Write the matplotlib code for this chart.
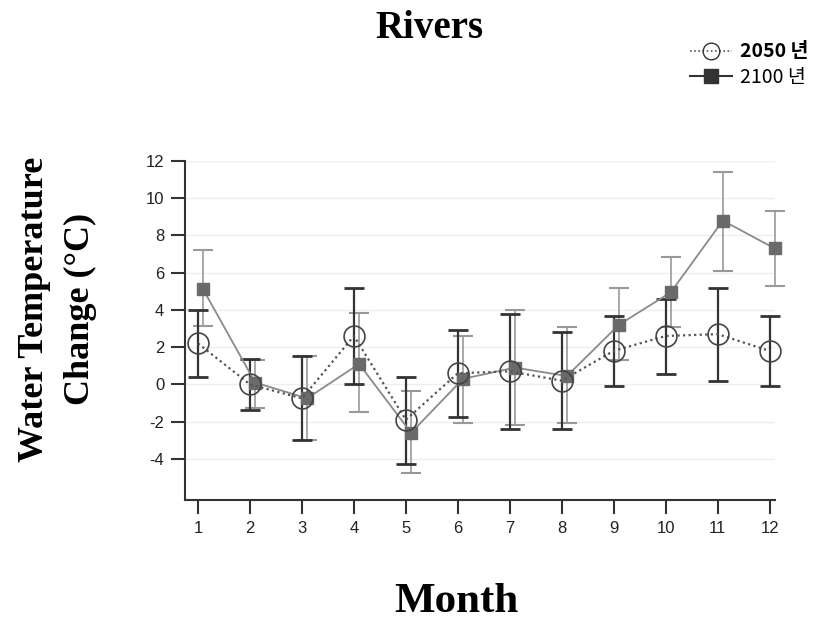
import numpy as np
import matplotlib.pyplot as plt
from matplotlib.lines import Line2D

plt.rcParams['axes.unicode_minus'] = False

months = list(range(1, 13))

# 2050 (open circles, dotted)
t2050 = [2.2, 0.0, -0.75, 2.6, -1.9, 0.6, 0.7, 0.2, 1.8, 2.6, 2.7, 1.8]
t2050_hi = [4.0, 1.35, 1.5, 5.2, 0.4, 2.9, 3.8, 2.8, 3.7, 4.6, 5.2, 3.7]
t2050_lo = [0.4, -1.35, -3.0, 0.0, -4.3, -1.75, -2.4, -2.4, -0.1, 0.55, 0.2, -0.1]

# 2100 (grey squares, solid)
t2100 = [5.1, 0.1, -0.75, 1.1, -2.6, 0.3, 0.9, 0.45, 3.2, 4.95, 8.8, 7.3]
t2100_hi = [7.2, 1.3, 1.5, 3.85, -0.35, 2.6, 4.0, 3.1, 5.2, 6.85, 11.4, 9.3]
t2100_lo = [3.15, -1.25, -3.0, -1.5, -4.75, -2.1, -2.2, -2.1, 1.3, 3.1, 6.1, 5.3]

yticks = [12, 10, 8, 6, 4, 2, 0, -2, -4]

fig = plt.figure(figsize=(8.26, 6.24), dpi=100)
ax = fig.add_axes([0.224, 0.199, 0.714, 0.543])

m = np.array(months)
a = np.array(t2050)
b = np.array(t2100)

ax.errorbar(m + 0.1, b, yerr=[b - np.array(t2100_lo), np.array(t2100_hi) - b],
            fmt='none', ecolor='#999999', elinewidth=1.2, capsize=7, capthick=1.5,
            zorder=2, clip_on=False)
ax.errorbar(m, a, yerr=[a - np.array(t2050_lo), np.array(t2050_hi) - a],
            fmt='none', ecolor='#333333', elinewidth=1.6, capsize=7, capthick=2,
            zorder=3, clip_on=False)

ax.plot(m + 0.1, b, color='#8a8a8a', lw=1.3, ls='-', marker='s', ms=8,
        mfc='#6a6a6a', mec='#6a6a6a', zorder=4, clip_on=False)
ax.plot(m, a, color='#555555', lw=1.6, ls=(0, (1, 1.5)), marker='o', ms=15,
        mfc='none', mec='#444444', mew=1.2, zorder=5, clip_on=False)

ax.set_xlim(0.75, 12.1)
ax.set_ylim(-6.2, 12)
ax.set_xticks(months)
ax.set_yticks(yticks)
for v in yticks:
    ax.axhline(v, color='#eeeeee', lw=1.0, zorder=0)

for s in ['top', 'right']:
    ax.spines[s].set_visible(False)
for s in ['left', 'bottom']:
    ax.spines[s].set_linewidth(1.5)
    ax.spines[s].set_color('#333333')
ax.tick_params(direction='out', length=10, width=1.5, color='#333333',
               labelsize=12, labelcolor='#222222', pad=5)
for lab in ax.get_xticklabels() + ax.get_yticklabels():
    lab.set_family('Liberation Sans')

fig.text(0.52, 0.955, 'Rivers', ha='center', va='center', fontsize=28,
         fontweight='bold', family='Liberation Serif')
fig.text(0.552, 0.036, 'Month', ha='center', va='center', fontsize=31,
         fontweight='bold', family='Liberation Serif')
fig.text(0.042, 0.505, 'Water Temperature', ha='center', va='center', rotation=90,
         fontsize=26, fontweight='bold', family='Liberation Serif')
fig.text(0.098, 0.505, 'Change (°C)', ha='center', va='center', rotation=90,
         fontsize=26, fontweight='bold', family='Liberation Serif')

handles = [
    Line2D([], [], color='#555555', lw=1.2, ls=(0, (1, 1.5)), marker='o', ms=12,
           mfc='none', mec='#333333'),
    Line2D([], [], color='#333333', lw=1.5, ls='-', marker='s', ms=10,
           mfc='#333333', mec='#333333'),
]
leg = fig.legend(handles, ['2050 년', '2100 년'], loc='upper right',
                 bbox_to_anchor=(1.0, 0.96), frameon=False, handlelength=2.2,
                 handletextpad=0.4, labelspacing=0.3,
                 prop={'family': ['Noto Sans CJK KR', 'DejaVu Sans'], 'size': 14})
leg.get_texts()[0].set_fontweight('bold')

fig.savefig('out.png', dpi=100)
